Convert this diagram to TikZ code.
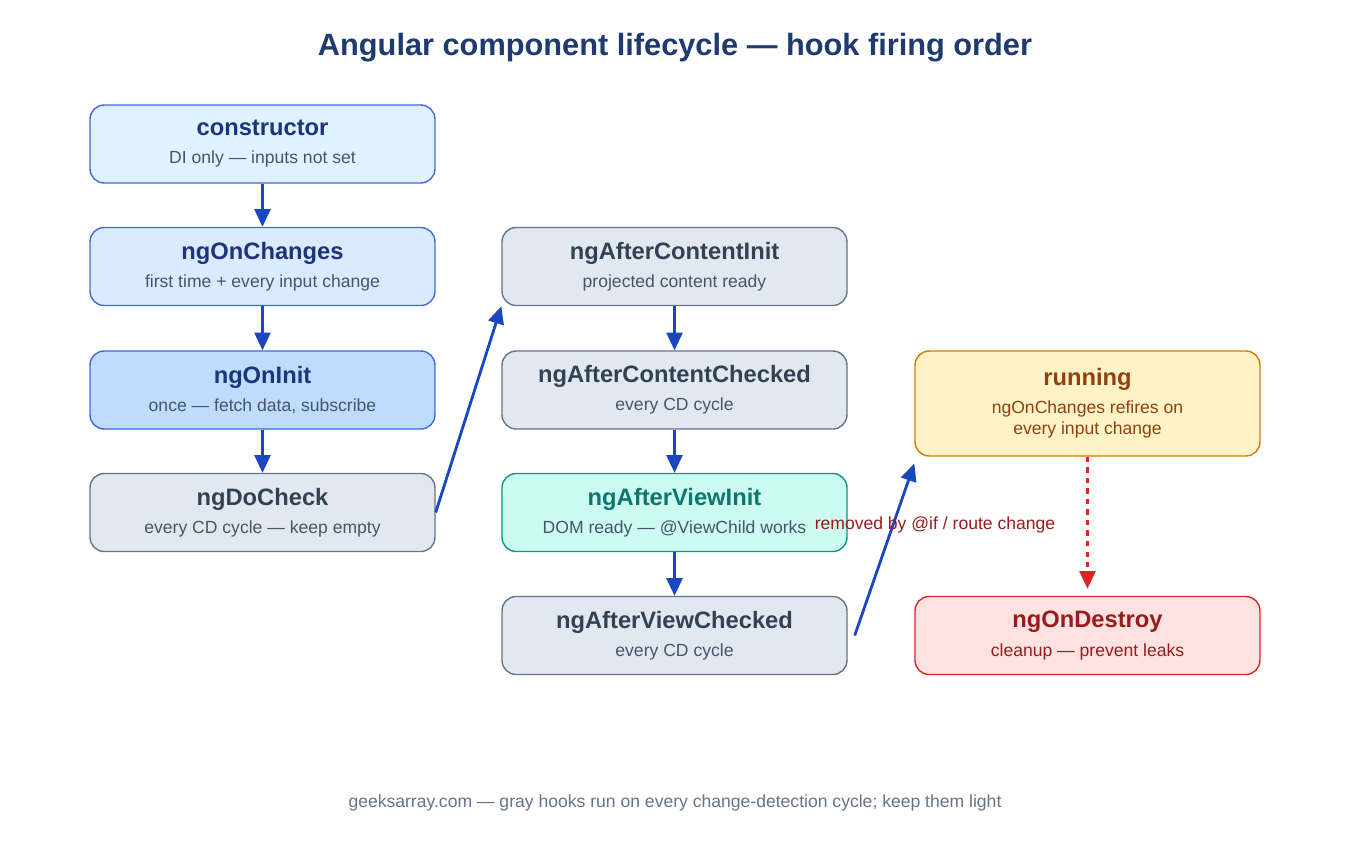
\documentclass[tikz,border=0pt]{standalone}
\usepackage{fontspec}
\setmainfont{Liberation Sans}
\usetikzlibrary{positioning,arrows.meta}
\definecolor{navy}{HTML}{1E3A6E}
\definecolor{arrowblue}{HTML}{1D4ED8}
\definecolor{slatetext}{HTML}{334155}
\definecolor{slatesub}{HTML}{475569}
\definecolor{slateline}{HTML}{64748B}
\definecolor{slatefill}{HTML}{E2E8F0}
\definecolor{ctorfill}{HTML}{E0F2FE}
\definecolor{changesfill}{HTML}{DBEAFE}
\definecolor{initfill}{HTML}{BFDBFE}
\definecolor{tealfill}{HTML}{CCFBF1}
\definecolor{tealline}{HTML}{0D9488}
\definecolor{tealtext}{HTML}{0F766E}
\definecolor{runfill}{HTML}{FEF3C7}
\definecolor{runline}{HTML}{D97706}
\definecolor{runtext}{HTML}{92400E}
\definecolor{endfill}{HTML}{FEE2E2}
\definecolor{endline}{HTML}{DC2626}
\definecolor{endtext}{HTML}{991B1B}
\tikzset{
  hook/.style={draw,rounded corners=8pt,line width=0.8pt,align=center,
    minimum width=6.9cm,minimum height=1.56cm,inner sep=2pt},
  bluehook/.style={hook,draw=arrowblue!85,text=navy!90!blue},
  grayhook/.style={hook,draw=slateline,fill=slatefill,text=slatetext},
  flow/.style={-{Triangle[length=10pt,width=9pt]},line width=1.6pt,arrowblue!90!black}
}
\newcommand{\hookname}[3]{{\fontsize{13.5}{16}\selectfont\bfseries #1}\\[4pt]{\fontsize{10}{13}\selectfont\color{#2}#3}}
\begin{document}
\begin{tikzpicture}[x=0.02cm,y=-0.02cm]
\useasboundingbox (0,0) rectangle (1350,840);
\node (title) at (675,48) {\fontsize{17.5}{21}\selectfont\bfseries\color{navy}Angular component lifecycle — hook firing order};
% first column
\node[bluehook,fill=ctorfill] (ctor) at (262.5,144) {\hookname{constructor}{slatesub}{DI only — inputs not set}};
\node[bluehook,fill=changesfill] (changes) at (262.5,266.5) {\hookname{ngOnChanges}{slatesub}{first time + every input change}};
\node[bluehook,fill=initfill] (init) at (262.5,390) {\hookname{ngOnInit}{slatesub}{once — fetch data, subscribe}};
\node[grayhook] (docheck) at (262.5,512.5) {\hookname{ngDoCheck}{slatesub}{every CD cycle — keep empty}};
% second column
\node[grayhook] (contentinit) at (674.5,266.5) {\hookname{ngAfterContentInit}{slatesub}{projected content ready}};
\node[grayhook] (contentchecked) at (674.5,390) {\hookname{ngAfterContentChecked}{slatesub}{every CD cycle}};
\node[hook,draw=tealline,fill=tealfill,text=tealtext] (viewinit) at (674.5,512.5) {\hookname{ngAfterViewInit}{slatesub}{DOM ready — @ViewChild works}};
\node[grayhook] (viewchecked) at (674.5,635.5) {\hookname{ngAfterViewChecked}{slatesub}{every CD cycle}};
% third column
\node[hook,draw=runline,fill=runfill,text=runtext,minimum height=2.1cm] (running) at (1087.5,403.5) {\fontsize{13.5}{16}\selectfont\bfseries running\\[4pt]\fontsize{10}{14}\selectfont\mdseries ngOnChanges refires on\\\fontsize{10}{14}\selectfont every input change};
\node[hook,draw=endline,fill=endfill,text=endtext] (destroy) at (1087.5,635.5) {\hookname{ngOnDestroy}{endtext}{cleanup — prevent leaks}};
\draw[flow] (ctor) -- (changes);
\draw[flow] (changes) -- (init);
\draw[flow] (init) -- (docheck);
\draw[flow] (docheck.east) -- (contentinit.south west);
\draw[flow] (contentinit) -- (contentchecked);
\draw[flow] (contentchecked) -- (viewinit);
\draw[flow] (viewinit) -- (viewchecked);
\draw[flow] ([xshift=4pt]viewchecked.east) -- ([yshift=-1.2cm]running.west);
\draw[-{Triangle[length=10pt,width=9pt]},line width=1.6pt,dashed,endline] (running) -- ([yshift=4pt]destroy.north);
\node[text=endtext,font=\fontsize{10}{13}\selectfont] (removed) at (935,525) {removed by @if / route change};
\node[text=slateline,font=\fontsize{10}{13}\selectfont] (footer) at (675,803) {geeksarray.com — gray hooks run on every change-detection cycle; keep them light};
\end{tikzpicture}
\end{document}
